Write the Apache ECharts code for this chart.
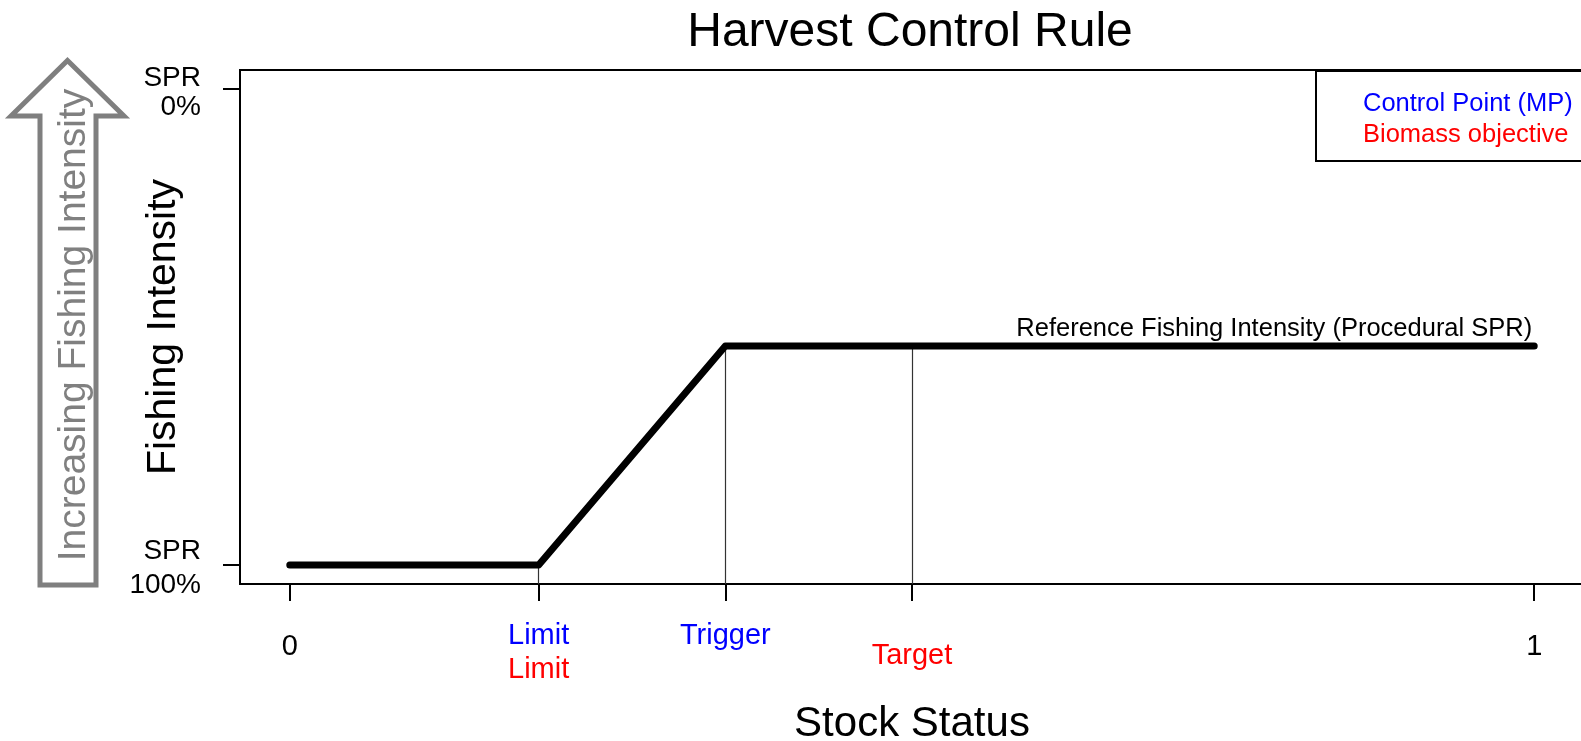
<!DOCTYPE html>
<html>
<head>
<meta charset="utf-8">
<title>Harvest Control Rule</title>
<script src="https://cdn.jsdelivr.net/npm/echarts@6.0.0/dist/echarts.min.js"></script>
<style>
  html, body { margin: 0; padding: 0; background: #fff; }
  #chart { width: 1581px; height: 741px; }
</style>
</head>
<body>
<div id="chart"></div>
<script>
// harvest control rule: stock status vs fishing intensity
const hcrX = [0, 0.2, 0.35, 1];
const hcrY = [0, 0, 0.46, 0.46];

// thin drop lines under limit / trigger / target
const dropX = [0.2, 0.35, 0.5];
const dropTop = [0, 0.46, 0.46];

// x axis ticks and the three label rows
const xTickVals = [0, 0.2, 0.35, 0.5, 1];
const xNumLabels = ['0', '', '', '', '1'];
const xCtrlLabels = ['', 'Limit', 'Trigger', '', ''];   // blue, control point (MP)
const xObjLabels = ['', 'Limit', '', 'Target', ''];     // red, biomass objective

// y axis ticks
const yTickVals = [0, 1];
const yTickLabels = [['SPR', '100%'], ['SPR', '0%']];

const legendItems = ['Control Point (MP)', 'Biomass objective'];
const refLabel = 'Reference Fishing Intensity (Procedural SPR)';

const FONT = '"Liberation Sans", Arial, sans-serif';
const chart = echarts.init(document.getElementById('chart'));

function xLabel(value) {
  const i = xTickVals.indexOf(value);
  if (i < 0) return '';
  if (xNumLabels[i]) return '{n|' + xNumLabels[i] + '}';
  if (xCtrlLabels[i] && xObjLabels[i]) return '{b|' + xCtrlLabels[i] + '}\n{r|' + xObjLabels[i] + '}';
  if (xCtrlLabels[i]) return '{b|' + xCtrlLabels[i] + '}';
  return '{t|' + xObjLabels[i] + '}';
}

// the two-line SPR labels sit a bit unevenly around their ticks in the original
function yLabel(value) {
  const i = yTickVals.indexOf(value);
  if (i < 0) return '';
  const pre = i === 0 ? 'lo' : 'hi';
  return '{' + pre + '1|' + yTickLabels[i][0] + '}\n{' + pre + '2|' + yTickLabels[i][1] + '}';
}

const sprStyle = { fontSize: 28, color: '#000', align: 'right' };

const option = {
  animation: false,
  textStyle: { fontFamily: FONT },
  title: {
    text: 'Harvest Control Rule',
    left: 910,
    top: 9,
    padding: 0,
    textAlign: 'center',
    textStyle: { fontSize: 48, lineHeight: 48, fontWeight: 'normal', color: '#000', fontFamily: FONT }
  },
  grid: {
    left: 240,
    top: 70,
    width: 1344,
    height: 514,
    outerBoundsMode: 'none',
    containLabel: false,
    show: true,
    borderColor: '#000',
    borderWidth: 2
  },
  xAxis: {
    type: 'value',
    min: -0.04,
    max: 1.04,
    name: 'Stock Status',
    nameLocation: 'middle',
    nameGap: 119,
    nameMoveOverlap: false,
    nameTextStyle: { fontSize: 42, lineHeight: 42, color: '#000' },
    axisLine: { show: true, onZero: false, lineStyle: { color: '#000', width: 2 } },
    axisTick: { show: true, customValues: xTickVals, length: 17, lineStyle: { color: '#000', width: 2 } },
    splitLine: { show: false },
    axisLabel: {
      customValues: xTickVals,
      margin: 31,
      formatter: xLabel,
      rich: {
        n: { fontSize: 29, lineHeight: 64, color: '#000' },
        b: { fontSize: 29, lineHeight: 42, color: '#0000ff' },
        r: { fontSize: 29, lineHeight: 25, color: '#ff0000' },
        t: { fontSize: 29, lineHeight: 82, color: '#ff0000' }
      }
    }
  },
  yAxis: {
    type: 'value',
    min: -0.04,
    max: 1.04,
    name: 'Fishing Intensity',
    nameLocation: 'middle',
    nameGap: 56,
    nameMoveOverlap: false,
    nameTextStyle: { fontSize: 41, lineHeight: 41, color: '#000' },
    axisLine: { show: true, onZero: false, lineStyle: { color: '#000', width: 2 } },
    axisTick: { show: true, customValues: yTickVals, length: 17, lineStyle: { color: '#000', width: 2 } },
    splitLine: { show: false },
    axisLabel: {
      customValues: yTickVals,
      margin: 39,
      formatter: yLabel,
      rich: {
        lo1: Object.assign({ lineHeight: 40 }, sprStyle),
        lo2: Object.assign({ lineHeight: 28 }, sprStyle),
        hi1: Object.assign({ lineHeight: 37 }, sprStyle),
        hi2: Object.assign({ lineHeight: 21 }, sprStyle)
      }
    }
  },
  series: [
    {
      type: 'line',
      data: hcrX.map((x, i) => [x, hcrY[i]]),
      showSymbol: false,
      silent: true,
      z: 3,
      lineStyle: { color: '#000', width: 7, cap: 'round', join: 'round' },
      markLine: {
        silent: true,
        symbol: ['none', 'none'],
        z: 1,
        label: { show: false },
        lineStyle: { color: '#333', width: 1.2, type: 'solid' },
        data: dropX.map((x, i) => [{ coord: [x, dropTop[i]] }, { coord: [x, -0.04] }])
      },
      markPoint: {
        silent: true,
        symbol: 'circle',
        symbolSize: 1,
        itemStyle: { color: 'rgba(0,0,0,0)' },
        label: {
          show: true,
          position: 'inside',
          align: 'right',
          verticalAlign: 'middle',
          offset: [-2, -17],
          fontSize: 25.5,
          color: '#000',
          formatter: refLabel
        },
        data: [{ coord: [hcrX[hcrX.length - 1], hcrY[hcrY.length - 1]] }]
      }
    }
  ],
  graphic: [
    // hollow up arrow with its label, left of the axis
    {
      type: 'polygon',
      shape: { points: [[67.5, 60.5], [124, 116], [96, 116], [96, 585], [40, 585], [40, 116], [11, 116]] },
      style: { fill: '#fff', stroke: '#7f7f7f', lineWidth: 5 },
      silent: true
    },
    {
      type: 'text',
      x: 74,
      y: 325,
      rotation: Math.PI / 2,
      style: {
        text: 'Increasing Fishing Intensity',
        fill: '#808080',
        font: '39px ' + FONT,
        align: 'center',
        verticalAlign: 'middle'
      },
      silent: true
    },
    // legend box in the top right corner
    {
      type: 'rect',
      shape: { x: 1316, y: 71, width: 300, height: 90 },
      style: { fill: '#fff', stroke: '#000', lineWidth: 2 },
      silent: true
    },
    {
      type: 'text',
      x: 1363,
      y: 104,
      style: { text: legendItems[0], fill: '#0000ff', font: '25.5px ' + FONT, align: 'left', verticalAlign: 'middle' },
      silent: true
    },
    {
      type: 'text',
      x: 1363,
      y: 135,
      style: { text: legendItems[1], fill: '#ff0000', font: '25.5px ' + FONT, align: 'left', verticalAlign: 'middle' },
      silent: true
    }
  ]
};

chart.setOption(option);
</script>
</body>
</html>
